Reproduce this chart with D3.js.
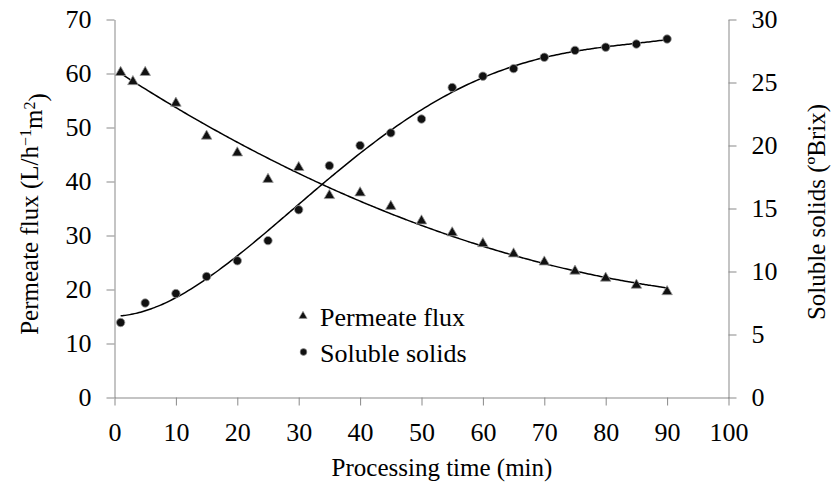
<!DOCTYPE html>
<html>
<head>
<meta charset="utf-8">
<script src="https://cdn.jsdelivr.net/npm/d3@7"></script>
</head>
<body style="margin:0">
<script>
// processing time (min) for each series
const fluxTime = [1, 3, 5, 10, 15, 20, 25, 30, 35, 40, 45, 50, 55, 60, 65, 70, 75, 80, 85, 90];
const fluxValues = [60.2, 58.5, 60.2, 54.5, 48.4, 45.3, 40.4, 42.6, 37.4, 37.9, 35.4, 32.7, 30.5, 28.5, 26.6, 25.1, 23.4, 22.1, 20.8, 19.6];

const solidsTime = [1, 5, 10, 15, 20, 25, 30, 35, 40, 45, 50, 55, 60, 65, 70, 75, 80, 85, 90];
const solidsValues = [5.95, 7.5, 8.25, 9.6, 10.85, 12.45, 14.9, 18.4, 20.0, 21.0, 22.1, 24.6, 25.5, 26.1, 27.0, 27.55, 27.8, 28.05, 28.45];

const xTicks = [0, 10, 20, 30, 40, 50, 60, 70, 80, 90, 100];
const leftTicks = [0, 10, 20, 30, 40, 50, 60, 70];
const rightTicks = [0, 5, 10, 15, 20, 25, 30];
const legendLabels = ["Permeate flux", "Soluble solids"];

const width = 832, height = 491;
const AXIS_GREY = "#898989";

const svg = d3.select("body").append("svg")
    .attr("width", width)
    .attr("height", height);

const x = d3.scaleLinear().domain([0, 100]).range([114.5, 728.5]);
const yLeft = d3.scaleLinear().domain([0, 70]).range([397.5, 19.5]);
const yRight = d3.scaleLinear().domain([0, 30]).range([397.5, 19.5]);

function serif(sel, size) {
  return sel.style("font-family", "'Times New Roman'")
      .style("font-size", size + "px");
}

// least squares polynomial trendline (like the spreadsheet one)
function polyfit(xs, ys, order) {
  const n = order + 1;
  const A = [];
  for (let i = 0; i < n; i++) {
    A.push([]);
    for (let j = 0; j < n; j++) A[i].push(d3.sum(xs, v => Math.pow(v / 100, i + j)));
    A[i].push(d3.sum(xs, (v, k) => Math.pow(v / 100, i) * ys[k]));
  }
  for (let c = 0; c < n; c++) {
    let p = c;
    for (let r = c + 1; r < n; r++) if (Math.abs(A[r][c]) > Math.abs(A[p][c])) p = r;
    [A[c], A[p]] = [A[p], A[c]];
    for (let r = 0; r < n; r++) {
      if (r === c) continue;
      const f = A[r][c] / A[c][c];
      for (let k = c; k <= n; k++) A[r][k] -= f * A[c][k];
    }
  }
  const coef = A.map((row, i) => row[n] / row[i]);
  return t => coef.reduce((s, c, i) => s + c * Math.pow(t / 100, i), 0);
}

function trend(xs, ys, order) {
  const f = polyfit(xs, ys, order);
  const t0 = d3.min(xs), t1 = d3.max(xs);
  return d3.range(t0, t1 + 0.001, 0.5).map(t => [t, f(t)]);
}

// axes, labels drawn as plain texts next to the ticks
function drawAxis(axis, transform) {
  const g = svg.append("g").attr("transform", transform).call(axis);
  g.attr("font-family", null).attr("font-size", null);
  g.select(".domain").attr("stroke", AXIS_GREY).attr("fill", "none");
  g.selectAll(".tick line").attr("stroke", AXIS_GREY);
  serif(g.selectAll(".tick text"), 26).attr("fill", "#000");
}

drawAxis(d3.axisBottom(x).tickValues(xTicks).tickSize(8).tickSizeOuter(0).tickPadding(17), "translate(0,397.5)");
drawAxis(d3.axisLeft(yLeft).tickValues(leftTicks).tickSize(8).tickSizeOuter(0).tickPadding(15), "translate(114.5,0)");
drawAxis(d3.axisRight(yRight).tickValues(rightTicks).tickSize(8).tickSizeOuter(0).tickPadding(15), "translate(728.5,0)");

// trend lines
const lineLeft = d3.line().x(d => x(d[0])).y(d => yLeft(d[1])).curve(d3.curveMonotoneX);
const lineRight = d3.line().x(d => x(d[0])).y(d => yRight(d[1])).curve(d3.curveMonotoneX);

svg.append("path")
    .datum(trend(fluxTime, fluxValues, 2))
    .attr("d", lineLeft)
    .attr("fill", "none")
    .attr("stroke", "#000")
    .attr("stroke-width", 1.5);

svg.append("path")
    .datum(trend(solidsTime, solidsValues, 4))
    .attr("d", lineRight)
    .attr("fill", "none")
    .attr("stroke", "#000")
    .attr("stroke-width", 1.5);

// markers
const tri = d3.symbol().type(d3.symbolTriangle).size(48);

svg.selectAll(".flux")
  .data(fluxTime)
  .enter().append("path")
    .attr("class", "flux")
    .attr("d", tri)
    .attr("transform", (d, i) => "translate(" + x(d) + "," + yLeft(fluxValues[i]) + ")")
    .attr("fill", "#111")
    .attr("stroke", "#9a9a9a")
    .attr("stroke-width", 0.8);

svg.selectAll(".solids")
  .data(solidsTime)
  .enter().append("circle")
    .attr("class", "solids")
    .attr("cx", d => x(d))
    .attr("cy", (d, i) => yRight(solidsValues[i]))
    .attr("r", 4.2)
    .attr("fill", "#111")
    .attr("stroke", "#9a9a9a")
    .attr("stroke-width", 0.8);

// legend
svg.append("path")
    .attr("d", d3.symbol().type(d3.symbolTriangle).size(30))
    .attr("transform", "translate(303,316)")
    .attr("fill", "#111")
    .attr("stroke", "#9a9a9a")
    .attr("stroke-width", 0.6);
svg.append("circle")
    .attr("cx", 303.5)
    .attr("cy", 352)
    .attr("r", 3.4)
    .attr("fill", "#111")
    .attr("stroke", "#9a9a9a")
    .attr("stroke-width", 0.6);
svg.selectAll(".legend-label")
  .data(legendLabels)
  .enter().append("text")
    .attr("x", 320)
    .attr("y", (d, i) => 326 + i * 36)
    .call(serif, 26)
    .text(d => d);

// axis titles
svg.append("text")
    .attr("x", 442)
    .attr("y", 476)
    .attr("text-anchor", "middle")
    .call(serif, 25)
    .text("Processing time (min)");

const leftTitle = svg.append("text")
    .attr("transform", "translate(38,214) rotate(-90)")
    .attr("text-anchor", "middle")
    .call(serif, 25);
leftTitle.append("tspan").text("Permeate flux (L/h");
leftTitle.append("tspan").attr("dy", "-0.45em").style("font-size", "16px").text("\u22121");
leftTitle.append("tspan").attr("dy", "0.45em").text("m");
leftTitle.append("tspan").attr("dy", "-0.45em").style("font-size", "16px").text("2");
leftTitle.append("tspan").attr("dy", "0.45em").text(")");

svg.append("text")
    .attr("transform", "translate(825,212) rotate(-90)")
    .attr("text-anchor", "middle")
    .call(serif, 25)
    .text("Soluble solids (\u00baBrix)");
</script>
</body>
</html>
